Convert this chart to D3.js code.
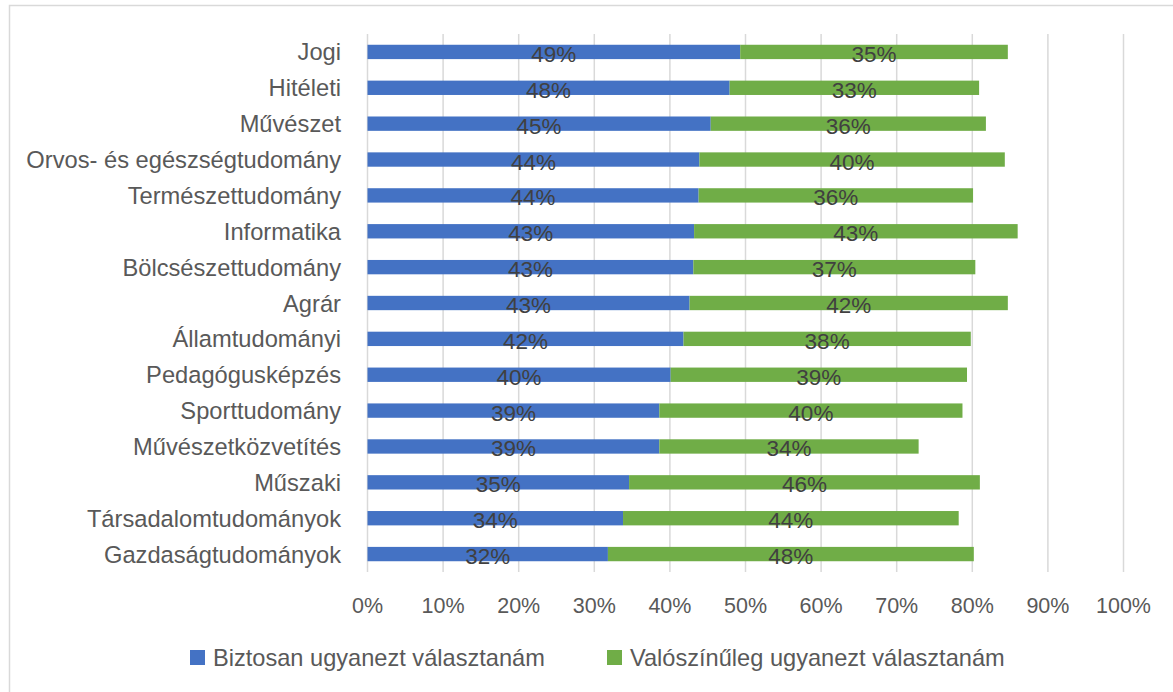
<!DOCTYPE html>
<html>
<head>
<meta charset="utf-8">
<script src="https://cdn.jsdelivr.net/npm/d3@7"></script>
<style>
  body { margin: 0; background: #fff; }
  svg { display: block; font-family: "Liberation Sans", Arial, sans-serif; }
</style>
</head>
<body>
<div id="chart"></div>
<script>
// categories, top to bottom
const categories = [
  "Jogi", "Hitéleti", "Művészet", "Orvos- és egészségtudomány", "Természettudomány",
  "Informatika", "Bölcsészettudomány", "Agrár", "Államtudományi", "Pedagógusképzés",
  "Sporttudomány", "Művészetközvetítés", "Műszaki", "Társadalomtudományok", "Gazdaságtudományok"
];
// share of respondents, %
const biztosan = [49.3, 47.9, 45.4, 43.9, 43.8, 43.2, 43.1, 42.6, 41.8, 40.1, 38.6, 38.6, 34.6, 33.8, 31.8];
const valoszinuleg = [35.4, 33.0, 36.4, 40.4, 36.3, 42.8, 37.3, 42.1, 38.0, 39.2, 40.1, 34.3, 46.4, 44.4, 48.4];
const seriesNames = ["Biztosan ugyanezt választanám", "Valószínűleg ugyanezt választanám"];
const seriesColors = ["#4472C4", "#70AD47"];
const xTicks = [0, 10, 20, 30, 40, 50, 60, 70, 80, 90, 100];

const W = 1173, H = 692;
const svg = d3.select("#chart").append("svg").attr("width", W).attr("height", H);

// Frame (only top and left edges visible in the crop)
svg.append("path")
    .attr("d", `M9.5,${H} V5.5 H${W}`)
    .attr("fill", "none").attr("stroke", "#d9d9d9").attr("stroke-width", 1.5);

const x = d3.scaleLinear().domain([0, 100]).range([367.5, 1123.5]);
const y = d3.scaleBand().domain(categories).range([34, 572])
    .paddingInner(0.6).paddingOuter(0.3);

// Gridlines
svg.append("g").selectAll("line").data(xTicks).join("line")
    .attr("x1", d => x(d)).attr("x2", d => x(d))
    .attr("y1", 34).attr("y2", 572)
    .attr("stroke", "#d9d9d9").attr("stroke-width", 1.5);

// Tick labels
svg.append("g").selectAll("text").data(xTicks).join("text")
    .attr("x", d => x(d)).attr("y", 613)
    .attr("text-anchor", "middle")
    .attr("font-size", "21.5px").attr("fill", "#595959")
    .text(d => d + "%");

// Category labels
svg.append("g").selectAll("text").data(categories).join("text")
    .attr("x", 341)
    .attr("y", d => y(d) + y.bandwidth() / 2 + 8.5)
    .attr("text-anchor", "end")
    .attr("font-size", "23.7px").attr("fill", "#595959")
    .text(d => d);

// Stacked bars
const rows = categories.map((c, i) => ({ cat: c, s0: biztosan[i], s1: valoszinuleg[i] }));
const stacked = d3.stack().keys(["s0", "s1"])(rows);

const layers = svg.append("g").selectAll("g").data(stacked).join("g")
    .attr("fill", (d, i) => seriesColors[i]);

layers.selectAll("rect").data(d => d).join("rect")
    .attr("x", d => x(d[0]))
    .attr("y", d => y(d.data.cat))
    .attr("width", d => x(d[1]) - x(d[0]))
    .attr("height", y.bandwidth());

// Value labels, centred in each segment
layers.selectAll("text").data(d => d).join("text")
    .attr("x", d => (x(d[0]) + x(d[1])) / 2)
    .attr("y", d => y(d.data.cat) + y.bandwidth() / 2 + 10)
    .attr("text-anchor", "middle")
    .attr("font-size", "22.5px").attr("fill", "#404040")
    .text(d => Math.round(d[1] - d[0]) + "%");

// Legend
const legendX = [190, 607];
const legend = svg.append("g").selectAll("g").data(seriesNames).join("g")
    .attr("transform", (d, i) => `translate(${legendX[i]}, 650)`);
legend.append("rect")
    .attr("width", 15).attr("height", 15)
    .attr("fill", (d, i) => seriesColors[i]);
legend.append("text")
    .attr("x", 23).attr("y", 16)
    .attr("font-size", "23.6px").attr("fill", "#595959")
    .text(d => d);
</script>
</body>
</html>
